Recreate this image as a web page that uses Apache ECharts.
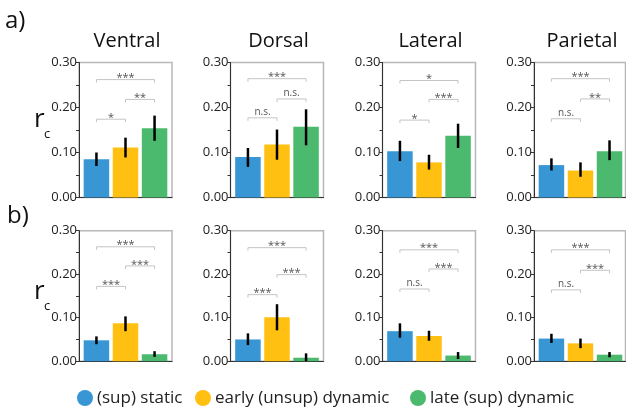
<!DOCTYPE html>
<html><head><meta charset="utf-8">
<script src="https://cdn.jsdelivr.net/npm/echarts@6/dist/echarts.min.js"></script>
<style>html,body{margin:0;padding:0;background:#fff}#c{width:626px;height:416px}</style>
</head><body><div id="c"></div>
<script>
const regions = ['Ventral', 'Dorsal', 'Lateral', 'Parietal'];
const groups = ['(sup) static', 'early (unsup) dynamic', 'late (sup) dynamic'];
const rowLabels = ['a)', 'b)'];
const yTicks = [0, 0.1, 0.2, 0.3];

// row a) means, lower and upper error-bar ends (per region: static, early, late)
const aMean = [[0.085, 0.111, 0.154], [0.090, 0.118, 0.157], [0.103, 0.078, 0.137], [0.072, 0.060, 0.103]];
const aLow  = [[0.070, 0.089, 0.126], [0.068, 0.084, 0.116], [0.081, 0.062, 0.110], [0.060, 0.046, 0.083]];
const aHigh = [[0.100, 0.133, 0.182], [0.110, 0.151, 0.196], [0.126, 0.095, 0.164], [0.087, 0.078, 0.127]];
// row b)
const bMean = [[0.048, 0.087, 0.016], [0.050, 0.101, 0.008], [0.069, 0.058, 0.013], [0.052, 0.041, 0.015]];
const bLow  = [[0.039, 0.069, 0.010], [0.037, 0.071, 0.000], [0.054, 0.047, 0.005], [0.042, 0.030, 0.009]];
const bHigh = [[0.057, 0.103, 0.023], [0.064, 0.131, 0.018], [0.087, 0.070, 0.021], [0.063, 0.052, 0.021]];

// significance brackets: pairs [static-late, early-late, static-early]
const bracketPairs = [[0, 2], [1, 2], [0, 1]];
const aSig = [['***', '**', '*'], ['***', 'n.s.', 'n.s.'], ['*', '***', '*'], ['***', '**', 'n.s.']];
const aSigLevel = [[0.262, 0.218, 0.174], [0.264, 0.219, 0.177], [0.260, 0.218, 0.172], [0.264, 0.219, 0.175]];
const bSig = [['***', '***', '***'], ['***', '***', '***'], ['***', '***', 'n.s.'], ['***', '***', 'n.s.']];
const bSigLevel = [[0.263, 0.219, 0.172], [0.261, 0.199, 0.153], [0.256, 0.212, 0.166], [0.256, 0.209, 0.164]];

const colors = ['#3896d4', '#ffc012', '#4cba6e'];
const FONT = 'Open Sans';

const rows = [
  {mean: aMean, low: aLow, high: aHigh, sig: aSig, lvl: aSigLevel},
  {mean: bMean, low: bLow, high: bHigh, sig: bSig, lvl: bSigLevel}
];
const lefts = [79, 230.5, 382.5, 534];
const widths = [93, 93, 93, 91.5];
const tops = [62.5, 230.7];
const heights = [135, 130.5];

const grid = [], xAxis = [], yAxis = [], series = [];
rows.forEach((row, r) => {
  regions.forEach((reg, c) => {
    const k = r * 4 + c;
    grid.push({left: lefts[c], top: tops[r], width: widths[c], height: heights[r],
      show: true, borderColor: '#b8b8b8', borderWidth: 1.5, backgroundColor: 'transparent'});
    xAxis.push({gridIndex: k, type: 'value', min: -0.6, max: 2.6 - (widths[c] < 93 ? 0.05 : 0),
      axisLine: {show: true, onZero: false, lineStyle: {color: '#333', width: 1}},
      axisTick: {show: false}, axisLabel: {show: false}, splitLine: {show: false}});
    yAxis.push({gridIndex: k, type: 'value', min: yTicks[0], max: yTicks[yTicks.length - 1], interval: 0.1,
      axisLine: {show: true, onZero: false, lineStyle: {color: '#333', width: 1}},
      axisTick: {show: true, length: 3, lineStyle: {color: '#333'}},
      minorTick: {show: true, splitNumber: 2, length: 3, lineStyle: {color: '#333'}},
      axisLabel: {formatter: v => v.toFixed(2), fontSize: 13, color: '#222', fontFamily: FONT, margin: 2},
      splitLine: {show: false}, minorSplitLine: {show: false}});
    groups.forEach((g, i) => {
      series.push({type: 'bar', name: g, xAxisIndex: k, yAxisIndex: k, barWidth: 25.5, barGap: '-100%',
        data: [[i, row.mean[c][i]]], itemStyle: {color: colors[i]}, silent: true, animation: false});
    });
    series.push({type: 'custom', xAxisIndex: k, yAxisIndex: k, animation: false, silent: true,
      data: groups.map((g, i) => [i, row.low[c][i], row.high[c][i]]),
      encode: {x: 0, y: [1, 2]}, z: 5,
      renderItem: (params, api) => {
        const p1 = api.coord([api.value(0), api.value(1)]);
        const p2 = api.coord([api.value(0), api.value(2)]);
        return {type: 'line', shape: {x1: p1[0], y1: p1[1], x2: p2[0], y2: p2[1]},
          style: {stroke: '#000', lineWidth: 2.5}};
      }});
    const labels = row.sig[c];
    series.push({type: 'custom', xAxisIndex: k, yAxisIndex: k, animation: false, silent: true,
      data: bracketPairs.map((p, j) => [p[0], p[1], row.lvl[c][j], j]),
      encode: {x: [0, 1], y: 2}, z: 6,
      renderItem: (params, api) => {
        const a = api.coord([api.value(0), api.value(2)]);
        const b = api.coord([api.value(1), api.value(2)]);
        const lab = labels[api.value(3)];
        const star = lab.indexOf('*') >= 0;
        return {type: 'group', children: [
          {type: 'polyline', shape: {points: [[a[0], a[1] + 3], [a[0], a[1]], [b[0], a[1]], [b[0], a[1] + 3]]},
            style: {stroke: '#c4c4c4', lineWidth: 1, fill: null}},
          {type: 'text', x: (a[0] + b[0]) / 2, y: a[1] + (star ? 4 : -1),
            style: {text: lab, fontSize: star ? 11 : 10, fontFamily: FONT, fill: '#555',
              textAlign: 'center', textVerticalAlign: 'bottom'}}
        ]};
      }});
  });
});

const graphic = [];
regions.forEach((reg, c) => {
  graphic.push({type: 'text', x: lefts[c] + 48, y: 41,
    style: {text: reg, fontSize: 20, fontFamily: FONT, fill: '#111', textAlign: 'center', textVerticalAlign: 'middle'}});
});
graphic.push({type: 'text', x: 5, y: 21, style: {text: rowLabels[0], fontSize: 24, fontFamily: FONT, fill: '#111', textVerticalAlign: 'middle'}});
graphic.push({type: 'text', x: 7, y: 216, style: {text: rowLabels[1], fontSize: 24, fontFamily: FONT, fill: '#111', textVerticalAlign: 'middle'}});
[120, 292].forEach(y => {
  graphic.push({type: 'text', x: 34, y: y, style: {text: 'r', fontSize: 26, fontFamily: FONT, fill: '#111', textVerticalAlign: 'middle'}});
  graphic.push({type: 'text', x: 44, y: y + 14, style: {text: 'c', fontSize: 13, fontFamily: FONT, fill: '#111', textVerticalAlign: 'middle'}});
});
const legX = [85, 203, 418];
groups.forEach((g, i) => {
  graphic.push({type: 'circle', shape: {cx: legX[i], cy: 398, r: 8}, style: {fill: colors[i]}});
  graphic.push({type: 'text', x: legX[i] + 12, y: 398,
    style: {text: g, fontSize: 17, fontFamily: FONT, fill: '#222', textVerticalAlign: 'middle'}});
});

const chart = echarts.init(document.getElementById('c'), null, {renderer: 'canvas'});
chart.setOption({animation: false, grid, xAxis, yAxis, series, graphic, tooltip: {show: false}});
</script></body></html>
